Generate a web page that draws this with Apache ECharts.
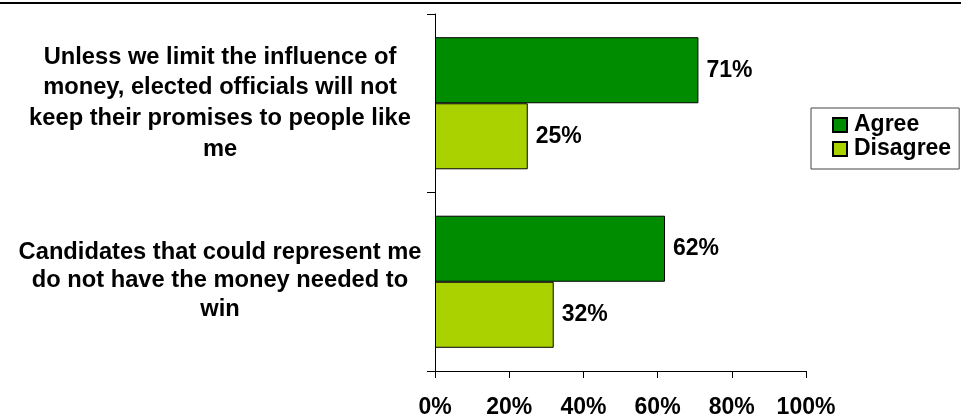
<!DOCTYPE html>
<html>
<head>
<meta charset="utf-8">
<script src="https://cdn.jsdelivr.net/npm/echarts@6/dist/echarts.min.js"></script>
<style>
html,body{margin:0;padding:0;background:#fff;}
#chart{width:961px;height:419px;}
</style>
</head>
<body>
<div id="chart"></div>
<script>
const categories = [
  "Unless we limit the influence of\nmoney, elected officials will not\nkeep their promises to people like\nme",
  "Candidates that could represent me\ndo not have the money needed to\nwin"
];
const seriesNames = ["Agree", "Disagree"];
const agreeValues = [71, 62];
const disagreeValues = [25, 32];
const xTicks = [0, 20, 40, 60, 80, 100];

const FONT = '"Liberation Sans", Arial, sans-serif';
const chart = echarts.init(document.getElementById('chart'), null, {renderer: 'canvas'});
const catText = {fontFamily: FONT, fontWeight: 'bold', fontSize: 23.7, color: '#000', align: 'center'};
const option = {
  animation: false,
  backgroundColor: '#fff',
  grid: {left: 435, right: 155, top: 14, bottom: 46, containLabel: false},
  legend: {
    orient: 'vertical',
    left: 811, top: 108,
    padding: [5, 8, 8, 21],
    itemGap: 0,
    itemWidth: 14, itemHeight: 14,
    borderColor: '#444', borderWidth: 1,
    icon: 'rect',
    textStyle: {fontFamily: FONT, fontWeight: 'bold', fontSize: 23, color: '#000', lineHeight: 24, padding: [0, 0, 0, 2]},
    data: seriesNames
  },
  xAxis: {
    type: 'value', min: xTicks[0], max: xTicks[xTicks.length - 1], interval: 20,
    splitLine: {show: false},
    axisLine: {show: true, lineStyle: {color: '#000', width: 1}},
    axisTick: {show: true, length: 7, lineStyle: {color: '#000'}},
    axisLabel: {
      margin: 25, fontFamily: FONT, fontWeight: 'bold', fontSize: 23, color: '#000',
      formatter: v => v + '%'
    }
  },
  yAxis: {
    type: 'category', inverse: true, data: categories,
    axisLine: {show: true, lineStyle: {color: '#000', width: 1}},
    axisTick: {show: true, length: 8, lineStyle: {color: '#000'}},
    axisLabel: {
      margin: 215, align: 'center',
      fontFamily: FONT, fontWeight: 'bold', fontSize: 23.7, color: '#000',
      formatter: (v, i) => (i === 0 ? '{a|' : '{b|') + v.split('\n').join('}\n' + (i === 0 ? '{a|' : '{b|')) + '}',
      rich: {
        a: Object.assign({lineHeight: 30.7}, catText),
        b: Object.assign({lineHeight: 28.3, padding: [0, 0, 2, 0]}, catText)
      }
    }
  },
  series: [
    {
      name: seriesNames[0], type: 'bar', data: agreeValues,
      barGap: '0%', barCategoryGap: '26%',
      itemStyle: {color: '#008C00', borderColor: '#000', borderWidth: 1},
      label: {show: true, position: 'right', distance: 8, fontFamily: FONT, fontWeight: 'bold', fontSize: 23, color: '#000', formatter: p => p.value + '%'}
    },
    {
      name: seriesNames[1], type: 'bar', data: disagreeValues,
      barGap: '0%', barCategoryGap: '26%',
      itemStyle: {color: '#AAD200', borderColor: '#000', borderWidth: 1},
      label: {show: true, position: 'right', distance: 8, fontFamily: FONT, fontWeight: 'bold', fontSize: 23, color: '#000', formatter: p => p.value + '%'}
    }
  ],
  graphic: [
    {type: 'line', shape: {x1: 0, y1: 3, x2: 961, y2: 3}, style: {stroke: '#000', lineWidth: 2}}
  ]
};
chart.setOption(option);
</script>
</body>
</html>
